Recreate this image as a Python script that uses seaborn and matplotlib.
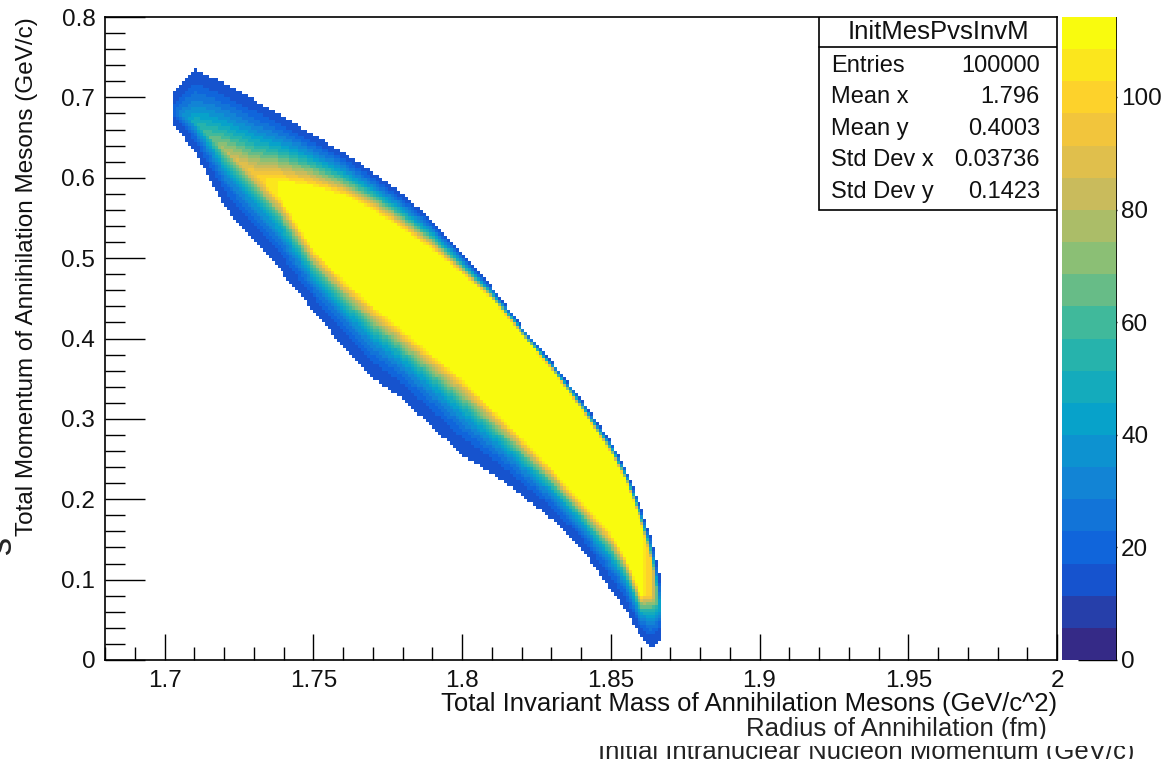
import numpy as np
import pandas as pd
import matplotlib
matplotlib.use("Agg")
import matplotlib.pyplot as plt
from matplotlib.colors import LinearSegmentedColormap, ListedColormap
from matplotlib.patches import Rectangle
from matplotlib.ticker import MultipleLocator
import seaborn as sns

# band outline, one entry per x station (GeV/c^2)
x_station   = [1.703, 1.710, 1.720, 1.730, 1.740, 1.750, 1.760, 1.770, 1.780, 1.790,
               1.800, 1.810, 1.820, 1.830, 1.840, 1.850, 1.855, 1.860, 1.864, 1.867]
top_edge    = [0.705, 0.735, 0.718, 0.697, 0.676, 0.654, 0.632, 0.607, 0.580, 0.548,
               0.507, 0.464, 0.416, 0.373, 0.325, 0.272, 0.237, 0.192, 0.150, 0.100]
core_top    = [0.685, 0.670, 0.635, 0.605, 0.595, 0.588, 0.577, 0.558, 0.535, 0.510,
               0.480, 0.448, 0.405, 0.362, 0.312, 0.257, 0.222, 0.172, 0.120, 0.060]
core_bottom = [0.685, 0.670, 0.635, 0.605, 0.570, 0.512, 0.475, 0.442, 0.412, 0.382,
               0.352, 0.314, 0.278, 0.240, 0.198, 0.158, 0.128, 0.082, 0.080, 0.060]
bottom_edge = [0.665, 0.635, 0.565, 0.520, 0.480, 0.435, 0.390, 0.350, 0.325, 0.290,
               0.255, 0.232, 0.205, 0.176, 0.140, 0.087, 0.062, 0.028, 0.012, 0.025]
peak_count  = [22, 50, 78, 98, 111, 114, 114, 114, 114, 114,
               114, 114, 114, 114, 114, 114, 114, 114, 95, 35]
edge_count = 12

stat_labels = ["Entries", "Mean x", "Mean y", "Std Dev x", "Std Dev y"]
stat_values = ["100000", "1.796", "0.4003", "0.03736", "0.1423"]
hist_name = "InitMesPvsInvM"
z_max = 114.2
cbar_ticks = [0, 20, 40, 60, 80, 100]

# histogram binning
x_edges = np.arange(1.68, 2.0 + 1e-9, 0.001)
y_edges = np.arange(0.0, 0.8 + 1e-9, 0.004)
xc = 0.5 * (x_edges[:-1] + x_edges[1:])
yc = 0.5 * (y_edges[:-1] + y_edges[1:])

rows = []
for x in xc:
    if x < x_station[0] or x > x_station[-1]:
        continue
    te = np.interp(x, x_station, top_edge)
    ct = np.interp(x, x_station, core_top)
    cb = np.interp(x, x_station, core_bottom)
    be = np.interp(x, x_station, bottom_edge)
    pk = np.interp(x, x_station, peak_count)
    for y in yc:
        if y < be or y > te:
            continue
        if y < cb:
            t = ((y - be) / max(cb - be, 1e-6)) ** 2.0
        elif y > ct:
            t = ((te - y) / max(te - ct, 1e-6)) ** 1.5
        else:
            t = 1.0
        v = edge_count + (pk - edge_count) * t
        rows.append((x, y, min(v, 114.0)))
df = pd.DataFrame(rows, columns=["inv_mass", "momentum", "count"])

# ROOT "bird" palette, 20 contour levels
bird_stops = [(0.2082, 0.1664, 0.5293), (0.0592, 0.3599, 0.8684), (0.0780, 0.5041, 0.8385),
              (0.0232, 0.6419, 0.7914), (0.1802, 0.7178, 0.6425), (0.5301, 0.7492, 0.4662),
              (0.8186, 0.7328, 0.3499), (0.9956, 0.7862, 0.1968), (0.9764, 0.9832, 0.0539)]
bird = LinearSegmentedColormap.from_list("bird", bird_stops)
cmap = ListedColormap(bird(np.linspace(0, 1, 20)))

sns.set_style("white")
plt.rcParams["font.family"] = ["Liberation Sans", "DejaVu Sans"]

fig = plt.figure(figsize=(11.65, 7.59), dpi=100)
ax = fig.add_axes([105 / 1165, 1 - 660 / 759, 952 / 1165, 643 / 759])
cax = fig.add_axes([1062 / 1165, 1 - 660 / 759, 55 / 1165, 643 / 759])

sns.histplot(df, x="inv_mass", y="momentum", weights="count", bins=[x_edges, y_edges],
             cmap=cmap, ax=ax)
mesh = ax.collections[0]
mesh.set_clim(0, z_max)

ax.set_xlim(1.68, 2.0)
ax.set_ylim(0, 0.8)
ax.xaxis.set_major_locator(MultipleLocator(0.05))
ax.xaxis.set_minor_locator(MultipleLocator(0.01))
ax.yaxis.set_major_locator(MultipleLocator(0.1))
ax.yaxis.set_minor_locator(MultipleLocator(0.02))
ax.xaxis.set_major_formatter(plt.FuncFormatter(lambda v, p: f"{v:g}"))
ax.yaxis.set_major_formatter(plt.FuncFormatter(lambda v, p: f"{v:g}"))
ax.tick_params(axis="x", which="major", bottom=True, direction="in", length=19, width=1,
               color="black", labelsize=17.5, pad=7, labelcolor="#111111")
ax.tick_params(axis="x", which="minor", bottom=True, direction="in", length=9.5, width=1, color="black")
ax.tick_params(axis="y", which="major", left=True, direction="in", length=29, width=1,
               color="black", labelsize=17.5, pad=7, labelcolor="#111111")
ax.tick_params(axis="y", which="minor", left=True, direction="in", length=14.5, width=1, color="black")
for s in ax.spines.values():
    s.set_linewidth(1.2)
    s.set_color("black")

ax.set_xlabel("Total Invariant Mass of Annihilation Mesons (GeV/c^2)", fontsize=18.5,
              loc="right", color="#111111")
ax.xaxis.set_label_coords(1.0, -0.05)
ax.set_ylabel("Total Momentum of Annihilation Mesons (GeV/c)", fontsize=17.5,
              loc="top", color="#111111")
ax.yaxis.set_label_coords(-0.0705, 1.0)

# stats box
ax.add_patch(Rectangle((0.7505, 0.700), 0.2495, 0.300, transform=ax.transAxes,
                       facecolor="white", edgecolor="black", lw=1.2, zorder=5))
ax.plot([0.7505, 1.0], [0.953, 0.953], transform=ax.transAxes, color="black", lw=1.2, zorder=6)
ax.text(0.875, 0.977, hist_name, transform=ax.transAxes, ha="center", va="center",
        fontsize=18.5, zorder=7, color="#111111")
for i, (lab, val) in enumerate(zip(stat_labels, stat_values)):
    yy = 0.924 - i * 0.049
    ax.text(0.763, yy, lab, transform=ax.transAxes, ha="left", va="center", fontsize=17,
            zorder=7, color="#111111")
    ax.text(0.982, yy, val, transform=ax.transAxes, ha="right", va="center", fontsize=17,
            zorder=7, color="#111111")

# palette axis
cbar = fig.colorbar(mesh, cax=cax, ticks=cbar_ticks)
cbar.outline.set_visible(False)
cax.yaxis.set_ticks_position("right")
cax.tick_params(axis="y", which="major", right=True, left=False, direction="in", length=28,
                width=1, color="black", labelsize=17.5, pad=3, labelcolor="#111111")
cax.tick_params(axis="y", which="minor", right=False, left=False)
cax.axvline(1.0, color="black", lw=1.2)

# remnants of neighbouring panels
fig.text(1 / 1165, 1 - 545 / 759, "s", rotation=90, fontsize=26, ha="center", va="center")
fig.text(1047 / 1165, 1 - 729 / 759, "Radius of Annihilation (fm)", fontsize=18.5, ha="right",
         va="center", color="#222222")
fig.text(1135 / 1165, 1 - 752 / 759, "Initial Intranuclear Nucleon Momentum (GeV/c)",
         fontsize=18.5, ha="right", va="center", color="#222222")
fig.patches.append(Rectangle((0.5, 1 - 746 / 759), 0.5, 7 / 759, transform=fig.transFigure,
                             facecolor="white", edgecolor="none", zorder=10))

fig.savefig("out.png", dpi=100)
